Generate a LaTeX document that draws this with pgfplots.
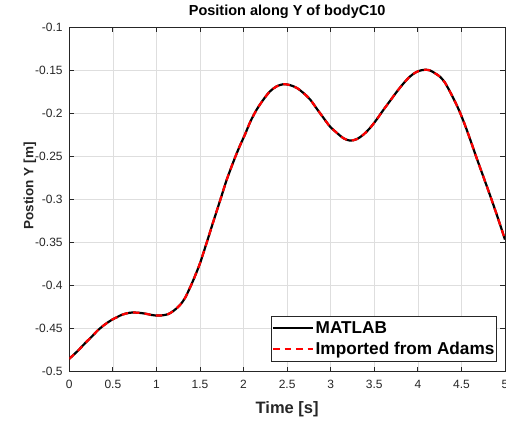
\documentclass[border=0pt]{standalone}
\usepackage{pgfplots}
\usepackage{pgfplotstable}
\pgfplotsset{compat=1.18}
\usepackage{fontspec}
\setmainfont{Liberation Sans}
\usetikzlibrary{calc}
\definecolor{axgray}{gray}{0.15}
\definecolor{gridgray}{gray}{0.87}
\pgfplotstableread{
t y
0.00 -0.485
0.10 -0.4755
0.18 -0.4670
0.26 -0.4590
0.333 -0.4514
0.41 -0.4450
0.487 -0.4398
0.55 -0.4365
0.60 -0.4340
0.66 -0.4322
0.716 -0.4313
0.79 -0.4315
0.869 -0.4325
0.94 -0.4340
1.003 -0.4348
1.07 -0.4345
1.137 -0.4330
1.20 -0.4290
1.271 -0.4225
1.33 -0.4140
1.40 -0.3990
1.45 -0.3870
1.50 -0.3740
1.577 -0.3500
1.65 -0.3265
1.73 -0.3013
1.81 -0.2760
1.902 -0.2512
1.96 -0.2370
2.017 -0.2242
2.08 -0.2090
2.151 -0.1954
2.23 -0.1835
2.304 -0.1742
2.38 -0.1685
2.457 -0.1660
2.53 -0.1670
2.611 -0.1703
2.69 -0.1765
2.764 -0.1838
2.84 -0.1945
2.916 -0.2050
2.99 -0.2150
3.07 -0.2225
3.15 -0.2290
3.223 -0.2315
3.30 -0.2298
3.376 -0.2245
3.45 -0.2170
3.52 -0.2080
3.60 -0.1965
3.68 -0.1855
3.76 -0.1745
3.84 -0.1645
3.91 -0.1570
3.98 -0.1520
4.04 -0.1498
4.084 -0.1492
4.14 -0.1500
4.20 -0.1535
4.256 -0.1575
4.31 -0.1640
4.37 -0.1750
4.43 -0.1870
4.486 -0.1995
4.55 -0.2160
4.61 -0.2330
4.677 -0.2525
4.75 -0.2730
4.83 -0.2955
4.91 -0.3190
5.00 -0.3465
}\posdata
\begin{document}
\begin{tikzpicture}
\begin{axis}[name=ax,
  width=435.7pt, height=344.3pt, scale only axis,
  xmin=0, xmax=5, ymin=-0.5, ymax=-0.1,
  xtick={0,0.5,1,1.5,2,2.5,3,3.5,4,4.5,5},
  ytick={-0.5,-0.45,-0.4,-0.35,-0.3,-0.25,-0.2,-0.15,-0.1},
  scaled y ticks=false, scaled x ticks=false,
  grid=major, major grid style={gridgray, line width=0.6pt},
  axis line style={axgray, line width=0.8pt},
  tick align=inside, tick pos=both, major tick length=5pt,
  tick style={axgray, line width=0.8pt},
  /pgf/number format/assume math mode=true,
  ticklabel style={font=\fontsize{12}{14}\selectfont, text=axgray},
  xticklabel style={inner sep=0pt, yshift=-8pt},
  yticklabel style={inner sep=0pt, xshift=-6.5pt},
  title={Position along Y of bodyC10},
  title style={font=\fontsize{14.5}{16}\selectfont\bfseries, at={(axis description cs:0.5,1.0166)}, anchor=base, inner sep=0pt},
  xlabel={Time [s]},
  xlabel style={font=\fontsize{16.5}{18}\selectfont\bfseries, text=axgray, at={(axis description cs:0.5,-0.1208)}, anchor=base, inner sep=0pt},
  ylabel={Postion Y [m]},
  ylabel style={font=\fontsize{13.5}{16}\selectfont\bfseries, text=axgray, at={(axis description cs:-0.0826,0.54)}, anchor=base, inner sep=0pt},
  legend style={at={(axis description cs:0.9823,0.029)}, anchor=south east,
    draw=axgray, line width=0.8pt, fill=white,
    font=\fontsize{17.2}{19}\selectfont\bfseries,
    inner xsep=1pt, inner ysep=3.5pt, row sep=4.3pt,
    nodes={inner sep=1.5pt}},
  legend cell align=left,
  legend image code/.code={\draw[#1] (0pt,0pt) -- (40pt,0pt);},
]
\addplot[black, line width=2.2pt, smooth] table[x=t, y=y] {\posdata};
\addlegendentry{MATLAB}
\addplot[red, line width=2.2pt, dash pattern=on 6.5pt off 5pt, smooth] table[x=t, y=y] {\posdata};
\addlegendentry{Imported from Adams}
\end{axis}
\pgfresetboundingbox
\path ($(ax.south west)+(-69.3pt,-50.3pt)$) rectangle ($(ax.north east)+(1pt,27.4pt)$);
\end{tikzpicture}
\end{document}
